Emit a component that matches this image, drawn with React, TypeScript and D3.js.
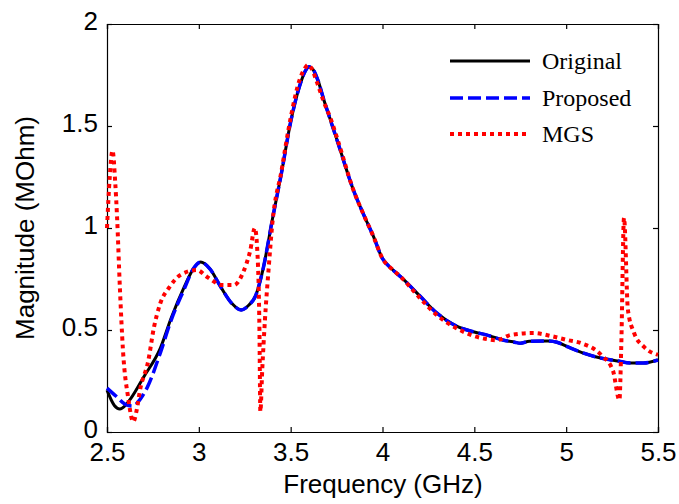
import { useRef, useEffect } from "react";
import * as d3 from "d3";

// frequency (GHz) / magnitude (MOhm)
const freqOriginal = [
  2.5, 2.54, 2.57, 2.6, 2.63, 2.7, 2.79, 2.85, 2.92, 2.97, 3.01, 3.06, 3.12,
  3.18, 3.23, 3.27, 3.31, 3.35, 3.4, 3.45, 3.5, 3.55, 3.58, 3.6, 3.62, 3.65,
  3.68, 3.72, 3.76, 3.84, 3.9, 3.95, 4.0, 4.05, 4.1, 4.2, 4.3, 4.4, 4.5, 4.57,
  4.66, 4.72, 4.75, 4.8, 4.9, 4.95, 5.01, 5.1, 5.2, 5.28, 5.35, 5.42, 5.5,
];
const magOriginal = [
  0.205, 0.13, 0.113, 0.13, 0.165, 0.27, 0.41, 0.56, 0.71, 0.8, 0.833, 0.8,
  0.71, 0.63, 0.598, 0.62, 0.67, 0.8, 1.04, 1.27, 1.52, 1.7, 1.77, 1.79, 1.78,
  1.72, 1.63, 1.52, 1.41, 1.19, 1.06, 0.96, 0.85, 0.8, 0.76, 0.67, 0.58, 0.52,
  0.49, 0.475, 0.45, 0.44, 0.435, 0.445, 0.446, 0.44, 0.417, 0.385, 0.36,
  0.348, 0.338, 0.338, 0.353,
];

const freqProposed = [
  2.5, 2.55, 2.6, 2.64, 2.68, 2.72, 2.79, 2.85, 2.92, 2.97, 3.01, 3.06, 3.12,
  3.18, 3.23, 3.27, 3.31, 3.35, 3.4, 3.45, 3.5, 3.55, 3.58, 3.6, 3.62, 3.65,
  3.68, 3.72, 3.76, 3.84, 3.9, 3.95, 4.0, 4.05, 4.1, 4.2, 4.3, 4.4, 4.5, 4.57,
  4.66, 4.72, 4.75, 4.8, 4.9, 4.95, 5.01, 5.1, 5.2, 5.28, 5.35, 5.42, 5.5,
];
const magProposed = [
  0.215, 0.175, 0.135, 0.127, 0.16, 0.22, 0.387, 0.55, 0.7, 0.8, 0.833, 0.8,
  0.71, 0.63, 0.598, 0.62, 0.67, 0.8, 1.04, 1.27, 1.52, 1.7, 1.77, 1.79, 1.78,
  1.72, 1.63, 1.52, 1.41, 1.19, 1.06, 0.96, 0.85, 0.8, 0.76, 0.67, 0.58, 0.52,
  0.49, 0.475, 0.45, 0.44, 0.435, 0.445, 0.446, 0.44, 0.417, 0.385, 0.36,
  0.348, 0.338, 0.338, 0.353,
];

const freqMGS = [
  2.5, 2.515, 2.53, 2.545, 2.555, 2.57, 2.587, 2.615, 2.643, 2.66, 2.68, 2.725,
  2.755, 2.79, 2.84, 2.9, 2.99, 3.045, 3.13, 3.19, 3.24, 3.28, 3.305, 3.32,
  3.33, 3.335, 3.345, 3.36, 3.38, 3.4, 3.45, 3.5, 3.55, 3.575, 3.595, 3.615,
  3.645, 3.68, 3.72, 3.76, 3.84, 3.9, 3.95, 4.0, 4.05, 4.1, 4.2, 4.3, 4.4, 4.5,
  4.57, 4.62, 4.7, 4.82, 4.92, 5.01, 5.08, 5.19, 5.255, 5.29, 5.3, 5.315,
  5.336, 5.37, 5.424, 5.5,
];
const magMGS = [
  1.0, 1.25, 1.38, 1.22, 1.05, 0.71, 0.4, 0.17, 0.05, 0.1, 0.206, 0.35, 0.51,
  0.63, 0.71, 0.77, 0.794, 0.76, 0.72, 0.72, 0.78, 0.89, 1.0, 0.86, 0.5, 0.1,
  0.3, 0.55, 0.8, 1.02, 1.28, 1.54, 1.73, 1.78, 1.8, 1.78, 1.71, 1.62, 1.53,
  1.42, 1.19, 1.06, 0.96, 0.85, 0.8, 0.76, 0.66, 0.57, 0.51, 0.47, 0.455, 0.45,
  0.476, 0.485, 0.47, 0.45, 0.436, 0.378, 0.3, 0.157, 0.42, 1.05, 0.6, 0.485,
  0.417, 0.378,
];

const xTicks = [2.5, 3, 3.5, 4, 4.5, 5, 5.5];
const yTicks = [0, 0.5, 1, 1.5, 2];
const seriesNames = ["Original", "Proposed", "MGS"];

const App = () => {
  const svgRef = useRef<SVGSVGElement>(null);
  const W = 679;
  const H = 504;
  const box = { left: 107, right: 658, top: 24, bottom: 432 };

  useEffect(() => {
    if (!svgRef.current) return;
    const svg = d3.select(svgRef.current);
    svg.selectAll("*").remove();

    const xScale = d3.scaleLinear().domain([2.5, 5.5]).range([box.left, box.right]);
    const yScale = d3.scaleLinear().domain([0, 2]).range([box.bottom, box.top]);

    const sansFont = "Arial, 'Liberation Sans', sans-serif";

    // axes, matlab style: ticks pointing inward on all four sides
    const xAxis = svg
      .append("g")
      .attr("transform", `translate(0,${box.bottom})`)
      .call(
        d3.axisBottom(xScale).tickValues(xTicks).tickSize(-5).tickPadding(11).tickFormat((d) => String(d))
      );
    const yAxis = svg
      .append("g")
      .attr("transform", `translate(${box.left},0)`)
      .call(
        d3.axisLeft(yScale).tickValues(yTicks).tickSize(-5).tickPadding(9).tickFormat((d) => String(d))
      );
    svg
      .append("g")
      .attr("transform", `translate(0,${box.top})`)
      .call(d3.axisTop(xScale).tickValues(xTicks).tickSize(-5).tickFormat(() => ""));
    svg
      .append("g")
      .attr("transform", `translate(${box.right},0)`)
      .call(d3.axisRight(yScale).tickValues(yTicks).tickSize(-5).tickFormat(() => ""));

    svg.selectAll(".domain").attr("stroke", "black").attr("stroke-width", 1.2);
    svg.selectAll(".tick line").attr("stroke", "black").attr("stroke-width", 1.2);
    [xAxis, yAxis].forEach((g) =>
      g.selectAll("text").attr("font-family", sansFont).attr("font-size", 26).attr("fill", "black")
    );
    // y labels sit a little above their ticks in the reference
    yAxis.selectAll("text").attr("dy", "0.22em");

    svg
      .append("text")
      .attr("x", (box.left + box.right) / 2 + 0.5)
      .attr("y", 493)
      .attr("text-anchor", "middle")
      .attr("font-family", sansFont)
      .attr("font-size", 26)
      .text("Frequency (GHz)");
    svg
      .append("text")
      .attr("transform", `translate(34,${(box.top + box.bottom) / 2}) rotate(-90)`)
      .attr("text-anchor", "middle")
      .attr("font-family", sansFont)
      .attr("font-size", 26)
      .text("Magnitude (MOhm)");

    const lineGen = d3
      .line<[number, number]>()
      .x((d) => xScale(d[0]))
      .y((d) => yScale(d[1]))
      .curve(d3.curveMonotoneX);

    const series = [
      { name: seriesNames[0], xs: freqOriginal, ys: magOriginal, color: "black", width: 3, dash: "none" },
      { name: seriesNames[1], xs: freqProposed, ys: magProposed, color: "#0000ff", width: 3.5, dash: "13 5" },
      { name: seriesNames[2], xs: freqMGS, ys: magMGS, color: "#ff0000", width: 4, dash: "4 4" },
    ];

    const plot = svg.append("g");
    series.forEach((s) => {
      const pts = s.xs.map((x, i) => [x, s.ys[i]] as [number, number]);
      plot
        .append("path")
        .attr("d", lineGen(pts))
        .attr("fill", "none")
        .attr("stroke", s.color)
        .attr("stroke-width", s.width)
        .attr("stroke-dasharray", s.dash)
        .attr("stroke-linejoin", "round");
    });

    // legend
    const legendY = [61, 98, 134];
    const legend = svg.append("g");
    series.forEach((s, i) => {
      legend
        .append("line")
        .attr("x1", 450)
        .attr("x2", 530)
        .attr("y1", legendY[i])
        .attr("y2", legendY[i])
        .attr("stroke", s.color)
        .attr("stroke-width", s.width)
        .attr("stroke-dasharray", s.dash);
      legend
        .append("text")
        .attr("x", 542)
        .attr("y", legendY[i] + 8)
        .attr("font-family", "'Times New Roman', 'Liberation Serif', serif")
        .attr("font-size", 24)
        .attr("fill", "black")
        .text(s.name);
    });
  }, []);

  return (
    <svg
      ref={svgRef}
      width={W}
      height={H}
      style={{ position: "absolute", left: 0, top: 0, background: "white" }}
    ></svg>
  );
};

export default App;
